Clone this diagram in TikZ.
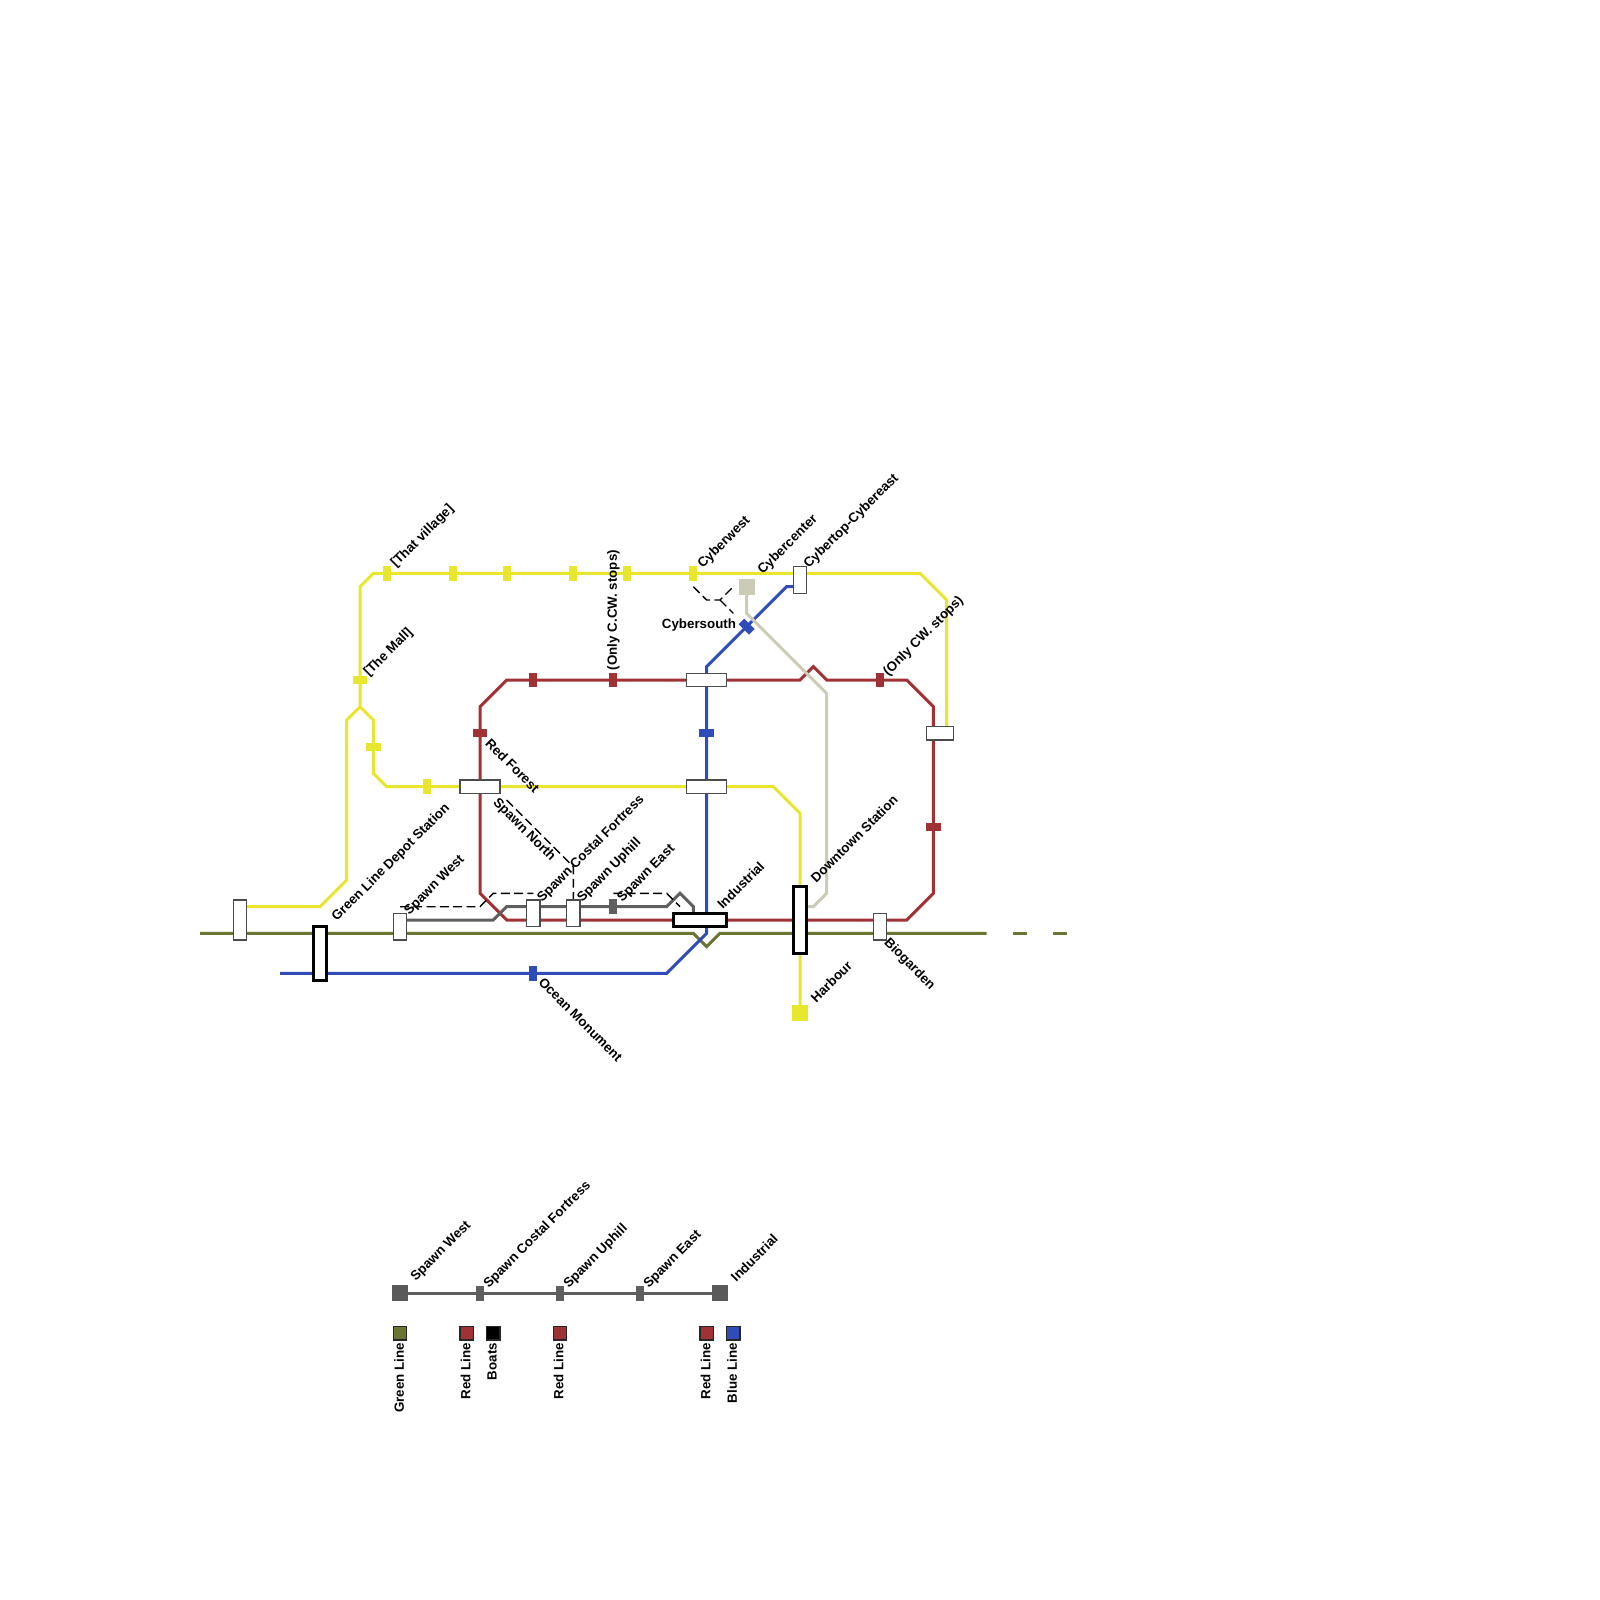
\documentclass[tikz,border=0pt]{standalone}
\usepackage{fontspec}
\setmainfont{Liberation Sans}
\usetikzlibrary{backgrounds}
\pgfdeclarelayer{lines}
\pgfdeclarelayer{dashes}
\pgfdeclarelayer{halts}
\pgfsetlayers{lines,dashes,halts,main}
\definecolor{cyellow}{HTML}{E8E62E}
\definecolor{cred}{HTML}{A03236}
\definecolor{cblue}{HTML}{2F4DB8}
\definecolor{cgreen}{HTML}{6B7430}
\definecolor{ctan}{HTML}{CCCBB6}
\definecolor{cgray}{HTML}{5F5F5F}
\tikzset{
  line/.style={line width=3pt,line join=miter},
  station/.style={draw=black!70,fill=white,line width=1.6pt,inner sep=0pt,outer sep=0pt,minimum width=13.33pt,minimum height=26.67pt},
  wide/.style={minimum width=40pt,minimum height=13.33pt},
  bigstation/.style={draw=black,fill=white,line width=3pt,inner sep=0pt,outer sep=0pt},
  vstop/.style={fill=#1,inner sep=0pt,outer sep=0pt,minimum width=8pt,minimum height=14.67pt},
  hstop/.style={fill=#1,inner sep=0pt,outer sep=0pt,minimum width=14.67pt,minimum height=8pt},
  term/.style={fill=#1,inner sep=0pt,outer sep=0pt,minimum size=16pt},
  swatch/.style={fill=#1,draw=black!85,line width=1.33pt,inner sep=0pt,outer sep=0pt,minimum size=13.33pt},
  lab/.style={inner sep=0pt,outer sep=0pt,font=\fontsize{13.33}{16}\selectfont\bfseries,text=black},
  up/.style={lab,rotate=45,anchor=west},
  down/.style={lab,rotate=-45,anchor=west},
  vert/.style={lab,rotate=90,anchor=west},
  vertd/.style={lab,rotate=90,anchor=east},
  walk/.style={draw=black,line width=1.33pt,dash pattern=on 8.9pt off 4.4pt},
}
\begin{document}
\begin{tikzpicture}[x=1pt,y=-1pt]
\useasboundingbox (0,0) rectangle (1600,1600);
% stations
\node[station,minimum height=40pt] (depotyard) at (240,920) {};
\node[bigstation,minimum width=13.33pt,minimum height=53.33pt] (depot) at (320,953.33) {};
\node[station] (swest) at (400,926.67) {};
\node[station] (scostal) at (533.33,913.33) {};
\node[station] (suphill) at (573.33,913.33) {};
\node[bigstation,minimum width=53.33pt,minimum height=13.33pt] (industrial) at (700,920) {};
\node[bigstation,minimum width=13.33pt,minimum height=66.67pt] (downtown) at (800,920) {};
\node[station] (biogarden) at (880,926.67) {};
\node[station,wide] (snorth) at (480,786.67) {};
\node[station,wide] (clow) at (706.67,786.67) {};
\node[station,wide] (chigh) at (706.67,680) {};
\node[station,minimum width=26.67pt,minimum height=13.33pt] (right) at (940,733.33) {};
\node[station] (cybertop) at (800,580) {};
% terminals
\node[term=cyellow] (harbour) at (800,1013.33) {};
\node[term=ctan] (cybercenter) at (746.67,586.67) {};
% halts
\begin{pgfonlayer}{halts}
\foreach \n/\x in {y1/386.67,y2/453.33,y3/506.67,y4/573.33,y5/626.67,y6/693.33}
  \node[vstop=cyellow] (\n) at (\x,573.33) {};
\node[hstop=cyellow] (mall) at (360,680) {};
\node[hstop=cyellow] (y7) at (373.33,746.67) {};
\node[vstop=cyellow] (y8) at (426.67,786.67) {};
\node[vstop=cred] (r1) at (533.33,680) {};
\node[vstop=cred] (r2) at (613.33,680) {};
\node[vstop=cred] (r3) at (880,680) {};
\node[hstop=cred] (redforest) at (480,733.33) {};
\node[hstop=cred] (r5) at (933.33,826.67) {};
\node[vstop=cblue] (ocean) at (533.33,973.33) {};
\node[hstop=cblue] (b2) at (706.67,733.33) {};
\node[hstop=cblue,rotate=-45] (cybersouth) at (746.67,626.67) {};
\node[vstop=cgray] (seast) at (613.33,906.67) {};
\end{pgfonlayer}
% lines
\begin{pgfonlayer}{lines}
\coordinate (gwest) at (200,933.33);
\coordinate (geast) at (986.67,933.33);
\coordinate (gd1) at (1013.33,933.33);
\coordinate (gd2) at (1026.67,933.33);
\coordinate (gd3) at (1053.33,933.33);
\coordinate (gd4) at (1066.67,933.33);
\coordinate (bwest) at (280,973.33);
\draw[line,cgreen] (gwest) -- (693.33,933.33) -- (706.67,946.67) -- (720,933.33) -- (geast);
\draw[line,cgreen] (gd1) -- (gd2);
\draw[line,cgreen] (gd3) -- (gd4);
\draw[line,cyellow] ([yshift=13.33pt]depotyard.center) -- (320,906.67) -- (346.67,880) -- (346.67,720) -- (360,706.67) -- (373.33,720) -- (373.33,773.33) -- (386.67,786.67) -- (773.33,786.67) -- (800,813.33) -- (harbour.center);
\draw[line,cyellow] (360,706.67) -- (360,586.67) -- (373.33,573.33) -- (920,573.33) -- (946.67,600) -- (946.67,733.33);
\draw[line,cred] (480,706.67) -- (506.67,680) -- (800,680) -- (813.33,666.67) -- (826.67,680) -- (906.67,680) -- (933.33,706.67) -- (933.33,893.33) -- (906.67,920) -- (506.67,920) -- (480,893.33) -- cycle;
\draw[line,cblue] (bwest) -- (666.67,973.33) -- (706.67,933.33) -- (706.67,666.67) -- (786.67,586.67) -- ([yshift=-6.67pt]cybertop.center);
\draw[line,cgray] ([yshift=6.67pt]swest.center) -- (493.33,920) -- (506.67,906.67) -- (666.67,906.67) -- (680,893.33) -- (693.33,906.67) -- (693.33,920);
\draw[line,ctan] (cybercenter.center) -- (746.67,613.33) -- (826.67,693.33) -- (826.67,893.33) -- (813.33,906.67) -- ([yshift=13.33pt]downtown.center);
\end{pgfonlayer}
% walking links
\begin{pgfonlayer}{dashes}
\draw[walk] (400,906.67) -- (480,906.67) -- (493.33,893.33) -- (533.33,893.33);
\draw[walk] (506.67,800) -- (573.33,866.67) -- (573.33,900);
\draw[walk] (613.33,893.33) -- (666.67,893.33) -- (680,906.67);
\draw[walk] (693.33,586.67) -- (706.67,600) -- (720,600) -- (733.33,586.67);
\draw[walk] (720,600) -- (733.33,613.33);
\end{pgfonlayer}
% labels
\node[up] (lvillage) at (393.5,565.5) {[That village]};
\node[up] (lmall) at (366.5,674.5) {[The Mall]};
\node[vert] (lccw) at (613.33,670) {(Only C.CW. stops)};
\node[up] (lcw) at (700.5,566.5) {Cyberwest};
\node[up] (lcc) at (760.5,572.5) {Cybercenter};
\node[up] (lct) at (806.5,566.5) {Cybertop-Cybereast};
\node[up] (lonlycw) at (886,674) {(Only CW. stops)};
\node[lab,anchor=east] (lcs) at (736,625.5) {Cybersouth};
\node[down] (lrf) at (488,741) {Red Forest};
\node[down] (lsn) at (495,801) {Spawn North};
\node[up] (ldep) at (334.5,919.5) {Green Line Depot Station};
\node[up] (lsw) at (407,913) {Spawn West};
\node[up] (lsc) at (540,900) {Spawn Costal Fortress};
\node[up] (lsu) at (580,900) {Spawn Uphill};
\node[up] (lse) at (620,900) {Spawn East};
\node[up] (lin) at (719.5,906.5) {Industrial};
\node[up] (ldt) at (813,880) {Downtown Station};
\node[up] (lha) at (813,1000) {Harbour};
\node[down] (lbio) at (886,941) {Biogarden};
\node[down] (loc) at (541,980) {Ocean Monument};
% legend
\node[term=cgray!95!black] (k1) at (400,1293.33) {};
\node[term=cgray!95!black] (k5) at (720,1293.33) {};
\node[vstop=cgray] (k2) at (480,1293.33) {};
\node[vstop=cgray] (k3) at (560,1293.33) {};
\node[vstop=cgray] (k4) at (640,1293.33) {};
\begin{pgfonlayer}{lines}
\draw[line,cgray] (k1.center) -- (k5.center);
\end{pgfonlayer}
\node[up] (kl1) at (413.5,1279) {Spawn West};
\node[up] (kl2) at (486.5,1286) {Spawn Costal Fortress};
\node[up] (kl3) at (566.5,1286) {Spawn Uphill};
\node[up] (kl4) at (646.5,1286) {Spawn East};
\node[up] (kl5) at (733,1279) {Industrial};
\node[swatch=cgreen] (s1) at (400,1333.33) {};
\node[swatch=cred] (s2) at (466.67,1333.33) {};
\node[swatch=black] (s3) at (493.33,1333.33) {};
\node[swatch=cred] (s4) at (560,1333.33) {};
\node[swatch=cred] (s5) at (706.67,1333.33) {};
\node[swatch=cblue] (s6) at (733.33,1333.33) {};
\node[vertd] (t1) at (399,1343) {Green Line};
\node[vertd] (t2) at (465.5,1343) {Red Line};
\node[vertd] (t3) at (492,1343) {Boats};
\node[vertd] (t4) at (558.5,1343) {Red Line};
\node[vertd] (t5) at (705.5,1343) {Red Line};
\node[vertd] (t6) at (732,1343) {Blue Line};
\end{tikzpicture}
\end{document}
